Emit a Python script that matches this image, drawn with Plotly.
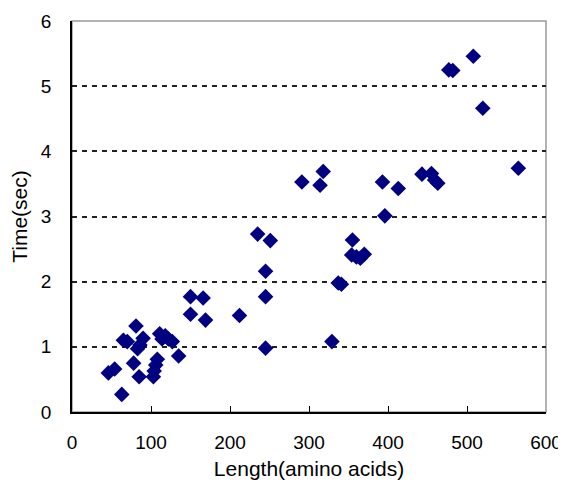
import plotly.graph_objects as go

length_aa = [46, 54, 63, 65, 70, 78, 81, 83, 86, 90, 85, 103, 104, 106, 108,
             111, 114, 118, 122, 127, 135, 150, 166, 150, 169, 212, 235, 251,
             245, 245, 245, 329, 337, 341, 355, 354, 360, 365, 370, 396, 291,
             314, 318, 393, 413, 443, 455, 459, 463, 565, 508, 477, 482, 520]
time_sec = [0.60, 0.66, 0.27, 1.10, 1.08, 0.75, 1.32, 0.97, 1.03, 1.13, 0.54,
            0.54, 0.63, 0.72, 0.81, 1.20, 1.12, 1.17, 1.12, 1.08, 0.86, 1.77,
            1.75, 1.50, 1.41, 1.48, 2.73, 2.63, 2.16, 1.77, 0.98, 1.08, 1.98,
            1.96, 2.64, 2.41, 2.38, 2.36, 2.42, 3.01, 3.53, 3.48, 3.69, 3.53,
            3.43, 3.65, 3.66, 3.56, 3.51, 3.74, 5.46, 5.25, 5.24, 4.66]

x_ticks = [0, 100, 200, 300, 400, 500, 600]
y_ticks = [0, 1, 2, 3, 4, 5, 6]

fig = go.Figure(go.Scatter(
    x=length_aa, y=time_sec, mode="markers",
    marker=dict(symbol="diamond", size=12, color="#000080",
                line=dict(width=0)),
    showlegend=False,
))

tick_font = dict(family="Liberation Sans, Arial, sans-serif", size=19, color="#000000")
title_font = dict(family="Liberation Sans, Arial, sans-serif", size=21, color="#000000")

# page body has an 8px margin, so the figure is sized to fit the window
fig.update_layout(
    width=558, height=488,
    margin=dict(l=64, r=20, t=13, b=84, autoexpand=False),
    paper_bgcolor="white", plot_bgcolor="white",
    font=tick_font,
    shapes=[dict(type="rect", xref="paper", yref="paper", x0=0, y0=0, x1=1, y1=1,
                 line=dict(color="#999999", width=1.5), layer="below")],
)
fig.update_xaxes(
    range=[0, 600], tickvals=x_ticks, ticks="inside", ticklen=6,
    tickcolor="#000000", showline=True, linecolor="#000000", linewidth=1.5,
    showgrid=False, zeroline=False, ticklabelstandoff=12, automargin=False,
    tickfont=tick_font,
    title=dict(text="Length(amino acids)", font=title_font, standoff=10),
)
fig.update_yaxes(
    range=[0, 6], tickvals=y_ticks, ticks="", showline=True,
    linecolor="#000000", linewidth=1.5, showgrid=True, gridcolor="#222222",
    gridwidth=1.5, griddash="5px,5px", zeroline=False, ticklabelstandoff=15,
    automargin=False, tickfont=tick_font,
    title=dict(text="Time(sec)", font=title_font, standoff=9),
)

fig.write_html("out.html")
